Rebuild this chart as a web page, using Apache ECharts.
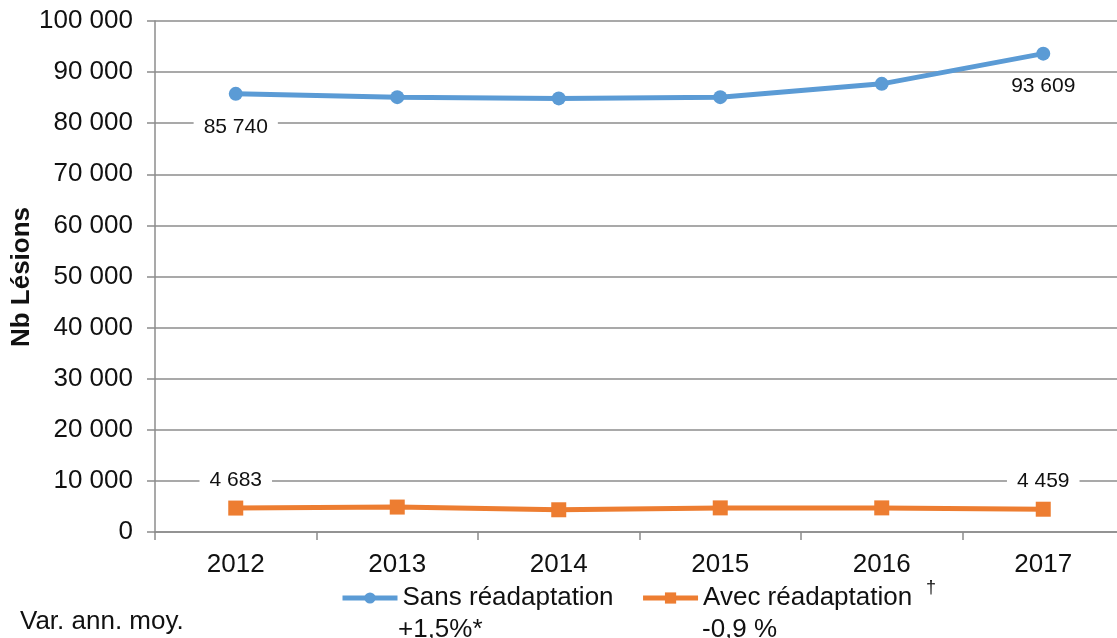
<!DOCTYPE html>
<html>
<head>
<meta charset="utf-8">
<script src="https://cdn.jsdelivr.net/npm/echarts@6/dist/echarts.min.js"></script>
<style>
  html, body { margin: 0; padding: 0; background: #fff; }
  #chart { width: 1117px; height: 638px; }
</style>
</head>
<body>
<div id="chart"></div>
<script>
// données
const years = ['2012', '2013', '2014', '2015', '2016', '2017'];
const sansReadaptation = [85740, 85100, 84850, 85100, 87700, 93609];
const avecReadaptation = [4683, 4880, 4350, 4720, 4720, 4459];
const legendNames = ['Sans réadaptation', 'Avec réadaptation'];
const varAnnuelle = ['+1,5%*', '-0,9 %'];
const yTitle = 'Nb Lésions';

const fmt = v => String(v).replace(/\B(?=(\d{3})+(?!\d))/g, ' ');
const FONT = '"Liberation Sans", Arial, sans-serif';

// étiquettes seulement sur le premier et le dernier point
function withEndLabels(values, dy) {
  return values.map((v, i) => {
    const show = i === 0 || i === values.length - 1;
    return {
      value: v,
      label: {
        show: show,
        position: 'inside',
        offset: [0, dy],
        formatter: p => fmt(p.value),
        color: '#111',
        fontSize: 21,
        fontFamily: FONT,
        backgroundColor: '#fff',
        padding: [2, 10]
      }
    };
  });
}

const chart = echarts.init(document.getElementById('chart'));
chart.setOption({
  animation: false,
  grid: { left: 155, top: 21, right: -7, bottom: 106, outerBoundsMode: 'none', containLabel: false },
  xAxis: {
    type: 'category',
    data: years,
    boundaryGap: true,
    axisLine: { lineStyle: { color: '#8c8c8c', width: 1.5 } },
    axisTick: { show: true, length: 8, lineStyle: { color: '#8c8c8c', width: 1.5 } },
    axisLabel: { color: '#111', fontSize: 26, fontFamily: FONT, margin: 20 }
  },
  yAxis: {
    type: 'value',
    min: 0,
    max: 100000,
    interval: 10000,
    axisLine: { show: true, lineStyle: { color: '#8c8c8c', width: 1.5 } },
    axisTick: { show: true, length: 8, lineStyle: { color: '#8c8c8c', width: 1.5 } },
    axisLabel: { color: '#111', fontSize: 26, fontFamily: FONT, margin: 22, formatter: fmt },
    splitLine: { lineStyle: { color: '#8c8c8c', width: 1.5 } }
  },
  legend: {
    left: 340,
    top: 585,
    padding: 0,
    itemWidth: 55,
    itemHeight: 14,
    itemGap: 27,
    data: legendNames,
    lineStyle: { width: 5 },
    textStyle: { color: '#111', fontSize: 26, fontFamily: FONT }
  },
  series: [
    {
      name: legendNames[0],
      type: 'line',
      data: withEndLabels(sansReadaptation, 33),
      symbol: 'circle',
      symbolSize: 14,
      lineStyle: { color: '#5b9bd5', width: 5 },
      itemStyle: { color: '#5b9bd5' },
      z: 3
    },
    {
      name: legendNames[1],
      type: 'line',
      data: withEndLabels(avecReadaptation, -28),
      symbol: 'rect',
      symbolSize: 15,
      lineStyle: { color: '#ed7d31', width: 5 },
      itemStyle: { color: '#ed7d31' },
      z: 3
    }
  ],
  graphic: [
    {
      type: 'text', x: 22, y: 277, rotation: Math.PI / 2,
      style: { text: yTitle, fill: '#111', fontSize: 26, fontWeight: 'bold', fontFamily: FONT, align: 'center', verticalAlign: 'middle' }
    },
    { type: 'text', left: 20, top: 609, style: { text: 'Var. ann. moy.', fill: '#111', fontSize: 26, fontFamily: FONT } },
    { type: 'text', left: 398, top: 617, style: { text: varAnnuelle[0], fill: '#111', fontSize: 26, fontFamily: FONT } },
    { type: 'text', left: 702, top: 617, style: { text: varAnnuelle[1], fill: '#111', fontSize: 26, fontFamily: FONT } },
    { type: 'text', left: 926, top: 579, style: { text: '†', fill: '#111', fontSize: 18, fontFamily: FONT } }
  ]
});
</script>
</body>
</html>
